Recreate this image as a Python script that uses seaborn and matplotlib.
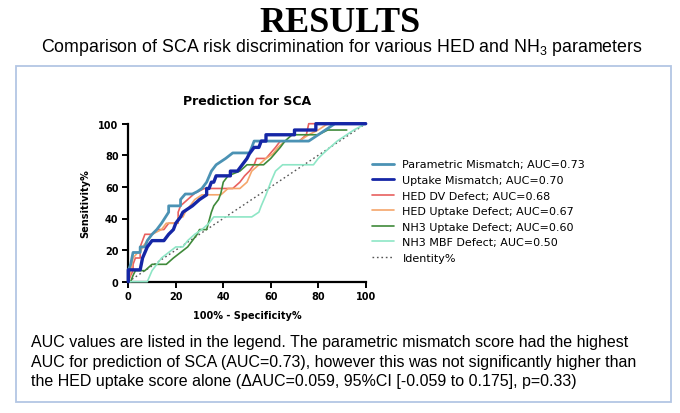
import matplotlib
matplotlib.use("Agg")
import matplotlib.pyplot as plt
from matplotlib.patches import Rectangle
from matplotlib.lines import Line2D
import pandas as pd
import seaborn as sns

# ── DATA ────────────────────────────────────────────────────────────────────
param_x = [0, 0, 1, 2, 5, 5, 7, 8, 10, 12, 14, 17, 17, 22, 22, 24, 27, 29, 31, 33, 35, 37, 41, 44, 51, 52, 53, 76, 80, 83, 87, 100]
param_y = [0, 7, 11, 18.5, 18.5, 22, 22, 26, 30, 33, 37, 44, 48, 48, 52, 55.5, 55.5, 57, 59, 63, 70, 74, 78, 81.5, 81.5, 85, 89, 89, 93, 96, 100, 100]

upt_mm_x = [0, 0, 5, 6, 7, 8, 10, 15, 17, 19, 20, 22, 23, 27, 30, 33, 33, 34, 35, 36, 37, 43, 43, 46, 48, 50, 51, 53, 55, 56, 58, 58, 70, 70, 79, 79, 100]
upt_mm_y = [0, 7.5, 7.5, 15, 18.5, 22, 26, 26, 30, 33, 37, 41, 44, 48, 52, 55, 59, 59, 63, 63, 67, 67, 70, 70, 74, 78, 81, 85, 85, 89, 89, 93, 93, 96, 96, 100, 100]

hed_dv_x = [0, 1, 2, 2, 3, 5, 5, 6, 7, 10, 12, 15, 17, 21, 21, 22, 25, 28, 32, 35, 44, 47, 49, 51, 53, 54, 58, 62, 64, 72, 75, 76, 100]
hed_dv_y = [0, 4, 7, 11, 15, 15, 22, 26, 30, 30, 33, 33, 37, 37, 44, 48, 52, 56, 59, 59, 59, 63, 67, 70, 74, 78, 78, 85, 89, 89, 93, 100, 100]

hed_up_x = [0, 1, 2, 4, 5, 6, 8, 10, 14, 16, 21, 21, 23, 24, 26, 28, 31, 39, 42, 47, 50, 52, 55, 58, 61, 63, 66, 72, 76, 80, 84, 100]
hed_up_y = [0, 7, 15, 18.5, 18.5, 22, 26, 30, 33, 37, 37, 41, 41, 44, 48, 52, 55, 55, 59, 59, 63, 70, 74, 78, 81, 85, 89, 89, 93, 96, 100, 100]

nh3_up_x = [0, 1, 2, 3, 7, 10, 16, 19, 22, 25, 27, 29, 30, 33, 35, 36, 38, 39, 40, 42, 47, 50, 57, 60, 64, 66, 69, 80, 84, 92]
nh3_up_y = [0, 0, 4, 7, 7, 11, 11, 15, 18.5, 22, 26, 30, 33, 33, 44, 48, 52, 56, 63, 67, 70, 74, 74, 78, 85, 89, 93, 93, 96, 96]

nh3_mbf_x = [0, 8, 10, 12, 14, 17, 20, 23, 25, 28, 31, 34, 36, 52, 55, 56, 58, 60, 62, 65, 78, 80, 82, 85, 88, 92, 95, 100]
nh3_mbf_y = [0, 0, 7, 11, 15, 18.5, 22, 22, 26, 30, 33, 37, 41, 41, 44, 48, 55, 63, 70, 74, 74, 78, 81, 85, 89, 93, 96, 100]

ident_x = [0, 100]
ident_y = [0, 100]

series_labels = [
    "Parametric Mismatch; AUC=0.73",
    "Uptake Mismatch; AUC=0.70",
    "HED DV Defect; AUC=0.68",
    "HED Uptake Defect; AUC=0.67",
    "NH3 Uptake Defect; AUC=0.60",
    "NH3 MBF Defect; AUC=0.50",
]
series_xy = [(param_x, param_y), (upt_mm_x, upt_mm_y), (hed_dv_x, hed_dv_y),
             (hed_up_x, hed_up_y), (nh3_up_x, nh3_up_y), (nh3_mbf_x, nh3_mbf_y)]

body_lines = [
    "AUC values are listed in the legend. The parametric mismatch score had the highest",
    "AUC for prediction of SCA (AUC=0.73), however this was not significantly higher than",
    "the HED uptake score alone (\u0394AUC=0.059, 95%CI [-0.059 to 0.175], p=0.33)",
]

COLORS = ["#4b92b4", "#1526a6", "#e8605f", "#f5a66b", "#3f8a3a", "#8ee6c6"]
WIDTHS = [2.0, 2.4, 1.2, 1.2, 1.2, 1.2]
ZORDER = [4, 6, 3, 3, 3, 3]

SANS = ["Liberation Sans", "DejaVu Sans"]

# ── FIGURE ──────────────────────────────────────────────────────────────────
sns.set_style("ticks")
plt.rcParams.update({
    "text.color": "black",
    "axes.labelcolor": "black",
    "xtick.color": "black",
    "ytick.color": "black",
    "mathtext.fontset": "custom",
    "mathtext.rm": "Liberation Sans",
    "mathtext.it": "Liberation Sans",
})

W, H = 680, 414
fig = plt.figure(figsize=(W / 100, H / 100), dpi=100)
fig.patch.set_facecolor("white")

def fx(px):
    return px / W

def fy(py):
    return 1 - py / H

fig.text(fx(340), fy(31.5), "RESULTS", ha="center", va="baseline",
         fontsize=26, fontweight="bold", family=["Liberation Serif", "DejaVu Serif"])
fig.text(fx(342), fy(52.5),
         r"Comparison of SCA risk discrimination for various HED and NH$_3$ parameters",
         ha="center", va="baseline", fontsize=12.8, family=SANS)

fig.patches.append(Rectangle((fx(15.5), fy(403)), fx(655.5), 336 / H,
                             transform=fig.transFigure, fill=False,
                             edgecolor="#b3c6e4", lw=1.3))

ax = fig.add_axes([fx(128.3), fy(282.7), fx(237.4), 158 / H])

for (xs, ys), lab, c, lw, z in zip(series_xy, series_labels, COLORS, WIDTHS, ZORDER):
    df = pd.DataFrame({"x": xs, "y": ys})
    sns.lineplot(data=df, x="x", y="y", sort=False, estimator=None, ax=ax,
                 color=c, lw=lw, zorder=z, clip_on=False)

sns.lineplot(x=ident_x, y=ident_y, ax=ax, color="#555555", lw=1.0,
             linestyle=(0, (1.2, 2.0)), zorder=2)

ax.set_xlim(0, 100)
ax.set_ylim(0, 100)
ax.set_xticks(range(0, 101, 20))
ax.set_yticks(range(0, 101, 20))
for s in ["top", "right"]:
    ax.spines[s].set_visible(False)
for s in ["left", "bottom"]:
    ax.spines[s].set_linewidth(1.6)
    ax.spines[s].set_color("black")
ax.tick_params(axis="both", length=4, width=1.4, color="black", pad=3,
               labelsize=7)
for t in ax.get_xticklabels() + ax.get_yticklabels():
    t.set_fontweight("bold")
ax.set_xlabel("100% - Specificity%", fontsize=7, fontweight="bold", labelpad=6)
ax.set_ylabel("Sensitivity%", fontsize=7, fontweight="bold", labelpad=6)
ax.set_title("Prediction for SCA", fontsize=9, fontweight="bold", pad=14)

handles = [Line2D([], [], color=c, lw=min(lw, 2.0)) for c, lw in zip(COLORS, WIDTHS)]
handles.append(Line2D([], [], color="#555555", lw=1.0, linestyle=(0, (1.2, 2.0))))
labels = series_labels + ["Identity%"]
fig.legend(handles, labels, loc="upper left", bbox_to_anchor=(fx(368), fy(156)),
           frameon=False, fontsize=8, handlelength=1.9, handletextpad=0.8,
           labelspacing=0.5, borderaxespad=0)

for i, line in enumerate(body_lines):
    fig.text(fx(31), fy(347.5 + 19.5 * i), line, ha="left", va="baseline",
             fontsize=11.5, family=SANS)

fig.savefig("out.png", dpi=100, facecolor="white")
